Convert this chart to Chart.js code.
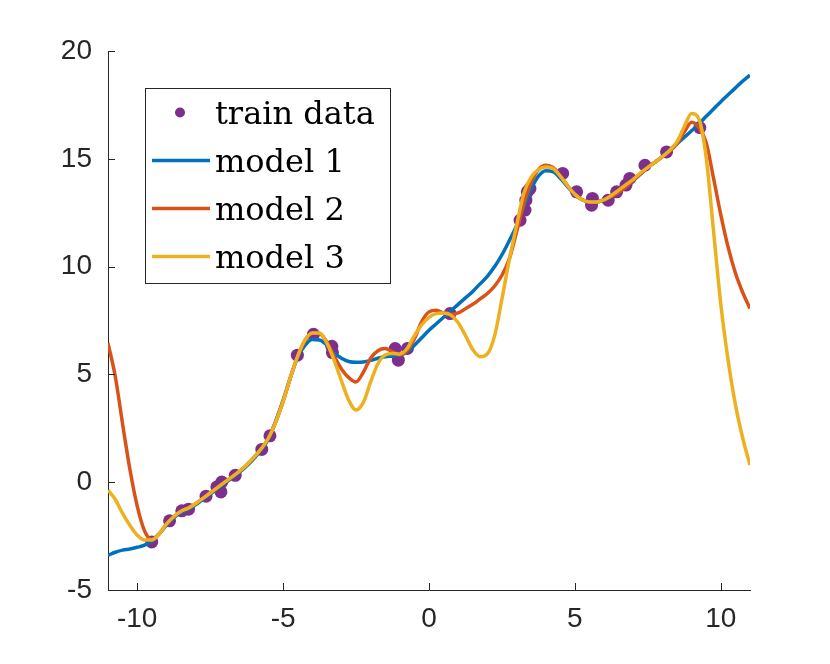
<!DOCTYPE html>
<html>
<head>
<meta charset="utf-8">
<script src="https://cdn.jsdelivr.net/npm/chart.js@4.4.1/dist/chart.umd.min.js"></script>
<style>
  html, body { margin: 0; padding: 0; background: #fff; }
</style>
</head>
<body>
<canvas id="chart" width="830" height="664"></canvas>
<script>
// sample grid for the model curves
const xs = [-11, -10.75, -10.5, -10.25, -10, -9.75, -9.5, -9.25, -9, -8.75, -8.5, -8.25,
  -8, -7.75, -7.5, -7.25, -7, -6.75, -6.5, -6.25, -6, -5.75, -5.5, -5.25,
  -5, -4.75, -4.5, -4.25, -4, -3.75, -3.5, -3.25, -3, -2.75, -2.5, -2.25,
  -2, -1.75, -1.5, -1.25, -1, -0.75, -0.5, -0.25, 0, 0.25, 0.5, 0.75,
  1, 1.25, 1.5, 1.75, 2, 2.25, 2.5, 2.75, 3, 3.25, 3.5, 3.75,
  4, 4.25, 4.5, 4.75, 5, 5.25, 5.5, 5.75, 6, 6.25, 6.5, 6.75,
  7, 7.25, 7.5, 7.75, 8, 8.25, 8.5, 8.75, 9, 9.25, 9.5, 9.75,
  10, 10.25, 10.5, 10.75, 11];

const model1 = [-3.39, -3.25, -3.15, -3.1, -3.02, -2.92, -2.72, -2.4, -2.0, -1.65, -1.4, -1.25,
  -1.05, -0.8, -0.55, -0.3, -0.05, 0.2, 0.45, 0.75, 1.1, 1.5, 2.0, 2.85,
  3.8, 4.85, 5.8, 6.35, 6.62, 6.6, 6.35, 6.0, 5.75, 5.6, 5.56, 5.58,
  5.65, 5.75, 5.82, 5.85, 5.9, 6.05, 6.35, 6.7, 7.05, 7.35, 7.65, 7.95,
  8.25, 8.55, 8.85, 9.2, 9.55, 10.0, 10.55, 11.2, 11.9, 12.75, 13.6, 14.2,
  14.45, 14.4, 14.1, 13.7, 13.35, 13.1, 13.0, 13.0, 13.1, 13.25, 13.45, 13.7,
  14.0, 14.3, 14.6, 14.85, 15.1, 15.4, 15.7, 16.0, 16.3, 16.62, 16.97, 17.31,
  17.65, 17.97, 18.29, 18.6, 18.88];

const model2 = [6.45, 4.9, 2.7, 0.6, -1.1, -2.25, -2.65, -2.4, -1.95, -1.6, -1.35, -1.2,
  -1.0, -0.75, -0.5, -0.25, 0.0, 0.25, 0.5, 0.8, 1.15, 1.55, 2.05, 2.8,
  3.75, 4.85, 5.85, 6.55, 6.92, 6.9, 6.5, 5.85, 5.25, 4.85, 4.65, 5.1,
  5.75, 6.1, 6.2, 6.05, 5.9, 6.1, 6.65, 7.45, 7.9, 7.97, 7.85, 7.78,
  7.85, 8.05, 8.25, 8.5, 8.75, 9.1, 9.6, 10.35, 11.6, 12.9, 13.9, 14.5,
  14.7, 14.6, 14.2, 13.75, 13.35, 13.1, 13.0, 13.0, 13.1, 13.25, 13.45, 13.7,
  14.0, 14.3, 14.6, 14.85, 15.1, 15.35, 15.7, 16.25, 16.7, 16.45, 15.75, 14.1,
  12.4, 10.9, 9.7, 8.8, 8.06];

const model3 = [-0.37, -0.8, -1.45, -2.0, -2.45, -2.68, -2.68, -2.4, -1.95, -1.6, -1.35, -1.2,
  -1.0, -0.75, -0.5, -0.25, 0.0, 0.25, 0.5, 0.8, 1.15, 1.55, 2.05, 2.8,
  3.75, 4.85, 5.85, 6.6, 6.92, 6.92, 6.45, 5.65, 4.7, 3.8, 3.35, 3.7,
  4.65, 5.5, 5.9, 5.97, 5.95, 6.2, 6.8, 7.3, 7.65, 7.82, 7.85, 7.75,
  7.4, 6.8, 6.15, 5.82, 5.95, 6.8, 8.5, 10.3, 11.9, 13.4, 14.15, 14.5,
  14.62, 14.55, 14.2, 13.75, 13.35, 13.1, 13.0, 13.0, 13.1, 13.3, 13.55, 13.8,
  14.05, 14.35, 14.6, 14.85, 15.1, 15.4, 15.8, 16.5, 17.1, 16.85, 15.05, 11.65,
  8.25, 5.66, 3.6, 2.05, 0.79];

const trainX = [-9.50, -8.89, -8.47, -8.24, -7.64, -7.27, -7.10, -7.13, -6.64, -5.73, -5.45, -4.51,
  -3.96, -3.33, -3.31, -1.16, -1.05, -0.74, 0.72, 3.12, 3.29, 3.32, 3.37, 3.46,
  4.58, 5.06, 5.60, 5.57, 6.14, 6.43, 6.75, 6.88, 7.40, 8.14, 9.28];
const trainY = [-2.77, -1.79, -1.33, -1.25, -0.65, -0.22, 0.01, -0.45, 0.32, 1.52, 2.15, 5.89,
  6.86, 6.30, 6.01, 6.20, 5.66, 6.20, 7.82, 12.15, 12.62, 13.08, 13.47, 13.62,
  14.32, 13.47, 13.16, 12.85, 13.08, 13.47, 13.78, 14.09, 14.70, 15.32, 16.45];

const xTicks = [-10, -5, 0, 5, 10];
const yTicks = [-5, 0, 5, 10, 15, 20];
const labels = ["train data", "model 1", "model 2", "model 3"];

const axisColor = "#262626";
const tickFont = { family: "'Liberation Sans', Arial, sans-serif", size: 28 };

function pts(xv, yv) {
  return xv.map((x, i) => ({ x: x, y: yv[i] }));
}

function lineSet(label, values, color, order) {
  return {
    label: label,
    data: pts(xs, values),
    showLine: true,
    borderColor: color,
    borderWidth: 3.5,
    pointRadius: 0,
    cubicInterpolationMode: "monotone",
    order: order
  };
}

// MATLAB style ticks point into the plot
const innerTicks = {
  id: "innerTicks",
  afterDraw(chart) {
    const { ctx, chartArea, scales } = chart;
    ctx.save();
    ctx.strokeStyle = axisColor;
    ctx.lineWidth = 1;
    ctx.beginPath();
    xTicks.forEach(v => {
      const px = Math.round(scales.x.getPixelForValue(v)) + 0.5;
      ctx.moveTo(px, chartArea.bottom);
      ctx.lineTo(px, chartArea.bottom - 7);
    });
    yTicks.forEach(v => {
      const py = Math.round(scales.y.getPixelForValue(v)) + 0.5;
      ctx.moveTo(chartArea.left, py);
      ctx.lineTo(chartArea.left + 7, py);
    });
    ctx.stroke();
    ctx.restore();
  }
};

const legendBox = {
  id: "legendBox",
  afterDraw(chart) {
    const ctx = chart.ctx;
    ctx.save();
    ctx.fillStyle = "#fff";
    ctx.fillRect(145.5, 88.5, 245, 195);
    ctx.strokeStyle = axisColor;
    ctx.lineWidth = 1;
    ctx.strokeRect(145.5, 88.5, 245, 195);
    ctx.font = "32px 'DejaVu Serif', serif";
    ctx.textBaseline = "alphabetic";
    chart.data.datasets.forEach((ds, i) => {
      const cy = 112.5 + i * 48;
      if (ds.showLine) {
        ctx.strokeStyle = ds.borderColor;
        ctx.lineWidth = 3.5;
        ctx.beginPath();
        ctx.moveTo(152, cy);
        ctx.lineTo(210, cy);
        ctx.stroke();
      } else {
        ctx.fillStyle = ds.backgroundColor;
        ctx.beginPath();
        ctx.arc(180, cy, 5, 0, Math.PI * 2);
        ctx.fill();
      }
      ctx.fillStyle = "#000";
      ctx.fillText(ds.label, 215, cy + 11);
    });
    ctx.restore();
  }
};

const ctx = document.getElementById("chart").getContext("2d");
new Chart(ctx, {
  type: "scatter",
  data: {
    datasets: [
      {
        label: labels[0],
        data: pts(trainX, trainY),
        backgroundColor: "#7E2F8E",
        borderColor: "#7E2F8E",
        pointRadius: 6.5,
        pointBorderWidth: 0,
        order: 4
      },
      lineSet(labels[1], model1, "#0072BD", 3),
      lineSet(labels[2], model2, "#D95319", 2),
      lineSet(labels[3], model3, "#EDB120", 1)
    ]
  },
  options: {
    responsive: false,
    animation: false,
    layout: { padding: { top: 51, right: 80, left: 0, bottom: 0 } },
    plugins: {
      legend: { display: false },
      tooltip: { enabled: false }
    },
    scales: {
      x: {
        type: "linear",
        min: -11,
        max: 11,
        afterBuildTicks: s => { s.ticks = xTicks.map(v => ({ value: v })); },
        afterFit: s => { s.height = 74; },
        grid: { drawOnChartArea: false, drawTicks: false },
        border: { display: true, color: axisColor, width: 1 },
        ticks: { color: axisColor, font: tickFont, padding: 12, maxRotation: 0 }
      },
      y: {
        type: "linear",
        min: -5,
        max: 20,
        afterBuildTicks: s => { s.ticks = yTicks.map(v => ({ value: v })); },
        afterFit: s => { s.width = 108; },
        grid: { drawOnChartArea: false, drawTicks: false },
        border: { display: true, color: axisColor, width: 1 },
        ticks: { color: axisColor, font: tickFont, padding: 16 }
      }
    }
  },
  plugins: [innerTicks, legendBox]
});
</script>
</body>
</html>
